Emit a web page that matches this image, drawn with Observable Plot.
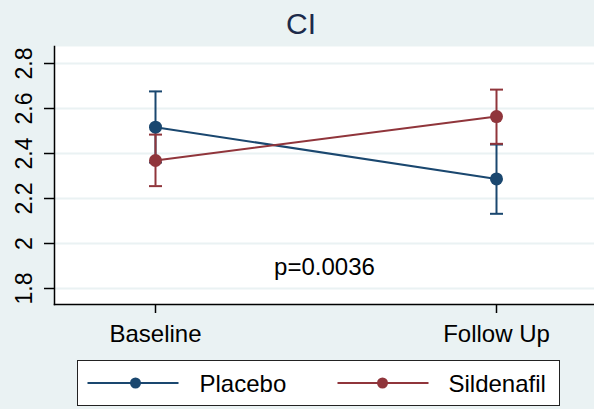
<!DOCTYPE html>
<html><head><meta charset="utf-8">
<script src="https://cdn.jsdelivr.net/npm/d3@7"></script>
<script src="https://cdn.jsdelivr.net/npm/@observablehq/plot@0.6"></script>
<style>
body{margin:0;background:#eaf2f3;}
#wrap{position:relative;width:594px;height:409px;background:#eaf2f3;overflow:hidden;font-family:"Liberation Sans",Arial,sans-serif;}
#title{position:absolute;left:4px;top:9px;width:594px;text-align:center;font-size:30px;line-height:30px;color:#1c2a4a;}
#chart{position:absolute;left:0;top:46px;}
#legend{position:absolute;left:77px;top:360px;width:481px;height:44px;border:1.5px solid #222;background:#fff;}
#legend svg{display:block;}
</style></head>
<body>
<div id="wrap">
  <div id="title">CI</div>
  <div id="chart"></div>
  <div id="legend"></div>
</div>
<script>
const periods = ["Baseline", "Follow Up"];
const groups = ["Placebo", "Sildenafil"];
const placeboMean = [2.517, 2.287];
const placeboLow = [2.36, 2.132];
const placeboHigh = [2.676, 2.44];
const sildenafilMean = [2.369, 2.564];
const sildenafilLow = [2.255, 2.443];
const sildenafilHigh = [2.484, 2.684];
const colors = ["#1a476f", "#90353b"];
const yTicks = [1.8, 2, 2.2, 2.4, 2.6, 2.8];
const pLabel = "p=0.0036";

const series = [
  {group: groups[0], mean: placeboMean, low: placeboLow, high: placeboHigh},
  {group: groups[1], mean: sildenafilMean, low: sildenafilLow, high: sildenafilHigh}
];
const rows = series.flatMap(s => periods.map((p, i) => ({
  group: s.group, period: p, mean: s.mean[i], low: s.low[i], high: s.high[i]
})));

const capSymbol = {
  draw(ctx, size) {
    const w = Math.sqrt(size / Math.PI);
    ctx.moveTo(-w, 0);
    ctx.lineTo(w, 0);
  }
};

const seriesMarks = groups.flatMap(g => {
  const d = rows.filter(r => r.group === g);
  return [
    Plot.ruleX(d, {x: "period", y1: "low", y2: "high", stroke: "group", strokeWidth: 2}),
    Plot.dot(d, {x: "period", y: "low", symbol: capSymbol, r: 6.5, stroke: "group", strokeWidth: 2, fill: "none"}),
    Plot.dot(d, {x: "period", y: "high", symbol: capSymbol, r: 6.5, stroke: "group", strokeWidth: 2, fill: "none"}),
    Plot.line(d, {x: "period", y: "mean", stroke: "group", strokeWidth: 2}),
    Plot.dot(d, {x: "period", y: "mean", fill: "group", r: 6.5, stroke: "none"})
  ];
});

const chart = Plot.plot({
  width: 594,
  height: 310,
  marginLeft: 54,
  marginRight: 0,
  marginTop: 0,
  marginBottom: 52,
  style: {fontFamily: "Liberation Sans, Arial, sans-serif", fontSize: "24px", background: "transparent", overflow: "visible", color: "#000"},
  x: {type: "point", domain: periods, range: [155, 496], padding: 0, label: null},
  y: {domain: [1.7289, 2.8756], label: null},
  color: {domain: groups, range: colors},
  marks: [
    Plot.frame({fill: "#fff", stroke: null}),
    Plot.ruleY(yTicks, {stroke: "#eaf2f3", strokeWidth: 2}),
    ...seriesMarks,
    Plot.text([pLabel], {text: d => d, frameAnchor: "bottom", dy: -37, lineAnchor: "middle", fontSize: 24, fill: "#000"}),
    Plot.frame({anchor: "left", stroke: "#000", strokeWidth: 1.5}),
    Plot.frame({anchor: "bottom", stroke: "#000", strokeWidth: 1.5}),
    Plot.axisY({ticks: yTicks, tickSize: 10, tickFormat: () => "", stroke: "#000", strokeWidth: 1.5}),
    Plot.text(yTicks, {y: d => d, text: d => String(d), frameAnchor: "left", dx: -30, rotate: -90, textAnchor: "middle", lineAnchor: "middle", fontSize: 23, fill: "#000"}),
    Plot.axisX({tickSize: 9, tickPadding: 11, fontSize: 24, stroke: "#000", strokeWidth: 1.5, fill: "#000", label: null})
  ]
});
document.getElementById("chart").appendChild(chart);

// Legend
const lg = d3.select("#legend").append("svg").attr("width", 481).attr("height", 44);
const legendItems = [
  {name: groups[0], color: colors[0], x1: 9.5, x2: 100.5, cx: 57.5, tx: 121.5},
  {name: groups[1], color: colors[1], x1: 259.5, x2: 350.5, cx: 304.5, tx: 370.5}
];
legendItems.forEach(it => {
  lg.append("line").attr("x1", it.x1).attr("x2", it.x2).attr("y1", 22).attr("y2", 22)
    .attr("stroke", it.color).attr("stroke-width", 2);
  lg.append("circle").attr("cx", it.cx).attr("cy", 22).attr("r", 5.5).attr("fill", it.color);
  lg.append("text").attr("x", it.tx).attr("y", 30.6).text(it.name)
    .attr("font-family", "Liberation Sans, Arial, sans-serif").attr("font-size", 24).attr("fill", "#000");
});
</script>
</body></html>
